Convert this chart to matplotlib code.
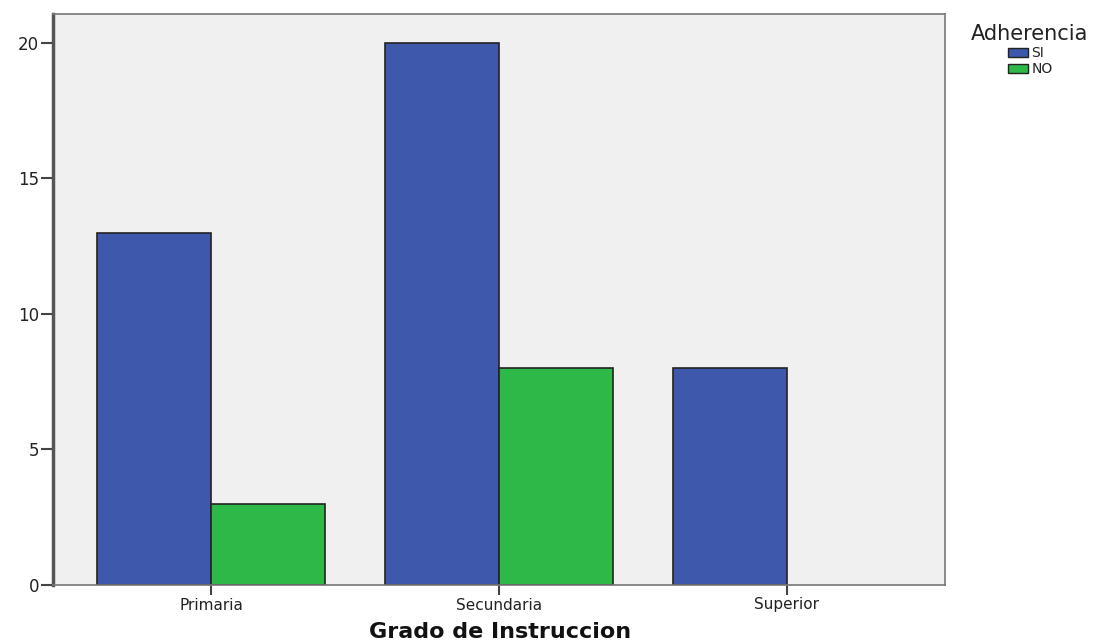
import matplotlib
matplotlib.use("Agg")
import matplotlib.pyplot as plt
import numpy as np
from matplotlib.patches import Patch

categories = ["Primaria", "Secundaria", "Superior"]
si_values = [13, 20, 8]
no_values = [3, 8, 0]
series_names = ["SI", "NO"]
yticks = [0, 5, 10, 15, 20]

plt.rcParams['font.family'] = ['DejaVu Sans']

fig = plt.figure(figsize=(11.04, 6.41), dpi=100)
ax = fig.add_axes([53/1104, 1-585/641, (945-53)/1104, (585-14)/641])
ax.set_facecolor("#f0f0f0")

x = np.arange(len(categories))
w = 0.397
c_si = "#3e58ac"
c_no = "#2eb848"
for vals, off, col in ((si_values, -w/2, c_si), (no_values, w/2, c_no)):
    for xi, v in zip(x, vals):
        if v > 0:
            ax.bar(xi + off, v, w, color=col, edgecolor="#222222", linewidth=1.2)

ax.set_xlim(-0.55, 2.55)
ax.set_ylim(0, 21.07)
ax.set_xticks(x)
ax.set_xticklabels(categories, fontsize=11, color="#222222")
ax.set_yticks(yticks)
ax.set_yticklabels([str(v) for v in yticks], fontsize=12, color="#222222")
ax.tick_params(axis='x', length=7, width=1.5, color="#444444", pad=2)
ax.tick_params(axis='y', length=9, width=1.5, color="#444444", pad=1)

for s in ["top", "right", "bottom"]:
    ax.spines[s].set_color("#777777")
    ax.spines[s].set_linewidth(1.2)
ax.spines["left"].set_color("#555555")
ax.spines["left"].set_linewidth(2.5)

fig.text(500/1104, 1-632/641, "Grado de Instruccion", fontsize=16, fontweight="bold",
         ha="center", va="center", color="#111111")

handles = [Patch(facecolor=c_si, edgecolor="#222222", label=series_names[0]),
           Patch(facecolor=c_no, edgecolor="#222222", label=series_names[1])]
leg = fig.legend(handles=handles, title="Adherencia", loc="upper center",
                 bbox_to_anchor=(1030/1104, 1-17/641), frameon=False,
                 fontsize=10, title_fontsize=15, handlelength=1.5, handleheight=0.6,
                 handletextpad=0.2, labelspacing=0.15, borderpad=0)
for t in leg.get_texts():
    t.set_color("#222222")
leg.get_title().set_color("#222222")

fig.savefig("out.png", dpi=100)
